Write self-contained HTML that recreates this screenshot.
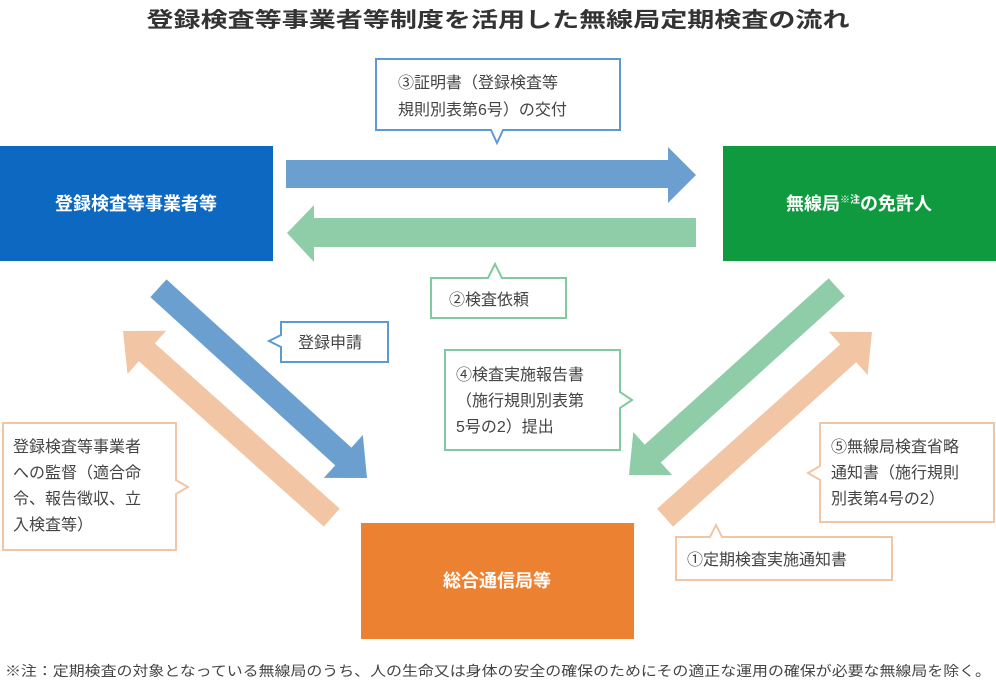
<!DOCTYPE html>
<html><head><meta charset="utf-8"><style>
html,body{margin:0;padding:0;background:#fff;}
svg{display:block;}
text{font-family:"Liberation Sans","Noto Sans CJK JP",sans-serif;}
.t{font-size:16px;fill:#444;}
.w{font-size:18px;fill:#fff;font-weight:bold;}
</style></head><body>
<svg width="996" height="683" viewBox="0 0 996 683" xmlns="http://www.w3.org/2000/svg">
<text x="498" y="27" text-anchor="middle" font-size="21" font-weight="bold" fill="#333" textLength="703" lengthAdjust="spacingAndGlyphs">登録検査等事業者等制度を活用した無線局定期検査の流れ</text>

<!-- boxes -->
<rect x="0" y="146" width="273" height="115" fill="#0d68c1"/>
<text class="w" x="136" y="210" text-anchor="middle">登録検査等事業者等</text>
<rect x="723" y="146" width="273" height="115" fill="#109a3f"/>
<text class="w" x="859" y="210" text-anchor="middle">無線局<tspan font-size="10" dy="-7">※注</tspan><tspan dy="7">の免許人</tspan></text>
<rect x="361" y="523" width="273" height="116" fill="#ed8132"/>
<text class="w" x="497" y="587" text-anchor="middle">総合通信局等</text>

<!-- horizontal arrows -->
<polygon points="286,160 668,160 668,147 696,175 668,203 668,188 286,188" fill="#6a9fd0"/>
<polygon points="696,218 314,218 314,205 287,233 314,262 314,247 696,247" fill="#8fcca8"/>

<!-- diagonal arrows: local arrow of length L pointing +x, tip at origin -->
<g transform="translate(367,478) rotate(42.3)">
<polygon points="0,0 -32,-29 -32,-12 -282,-12 -282,12 -32,12 -32,29" fill="#6a9fd0"/>
</g>
<g transform="translate(629,475) rotate(137.9)">
<polygon points="0,0 -32,-29 -32,-12 -280,-12 -280,12 -32,12 -32,29" fill="#8fcca8"/>
</g>
<g transform="translate(872,332) rotate(-41.9)">
<polygon points="0,0 -32,-29 -32,-12 -278,-12 -278,12 -32,12 -32,29" fill="#f2c6a5"/>
</g>
<g transform="translate(123,331) rotate(221.8)">
<polygon points="0,0 -32,-29 -32,-12 -280,-12 -280,12 -32,12 -32,29" fill="#f2c6a5"/>
</g>

<!-- callouts -->
<g fill="#fff" stroke-width="2">
<path d="M376,59 H620 V130 H503 L497,143 L491,130 H376 Z" stroke="#5b9bd5"/>
<path d="M431,278 H488 L495,264 L502,278 H566 V318 H431 Z" stroke="#7fcaa0"/>
<path d="M281,322 H388 V362 H281 V347 L269,341 L281,335 Z" stroke="#5b9bd5"/>
<path d="M445,350 H620 V392 L632,400 L620,408 V450 H445 Z" stroke="#7fcaa0"/>
<path d="M3,423 H176 V480 L188,487 L176,494 V550 H3 Z" stroke="#f2c6a5"/>
<path d="M820,423 H994 V522 H820 V480 L808,473 L820,466 Z" stroke="#f2c6a5"/>
<path d="M676,537 H710 L716,525 L722,537 H892 V580 H676 Z" stroke="#f2c6a5"/>
</g>

<text class="t" x="398" y="88">③証明書（登録検査等</text>
<text class="t" x="398" y="115">規則別表第6号）の交付</text>
<text class="t" x="449" y="305">②検査依頼</text>
<text class="t" x="298" y="348">登録申請</text>
<text class="t" x="456" y="380">④検査実施報告書</text>
<text class="t" x="456" y="406">（施行規則別表第</text>
<text class="t" x="456" y="432">5号の2）提出</text>
<text class="t" x="13" y="452">登録検査等事業者</text>
<text class="t" x="13" y="478">への監督（適合命</text>
<text class="t" x="13" y="504">令、報告徴収、立</text>
<text class="t" x="13" y="530">入検査等）</text>
<text class="t" x="831" y="452">⑤無線局検査省略</text>
<text class="t" x="831" y="478">通知書（施行規則</text>
<text class="t" x="831" y="504">別表第4号の2）</text>
<text class="t" x="687" y="565">①定期検査実施通知書</text>

<text x="5" y="676" font-size="14" fill="#444" textLength="986" lengthAdjust="spacingAndGlyphs">※注：定期検査の対象となっている無線局のうち、人の生命又は身体の安全の確保のためにその適正な運用の確保が必要な無線局を除く。</text>
</svg>
</body></html>
